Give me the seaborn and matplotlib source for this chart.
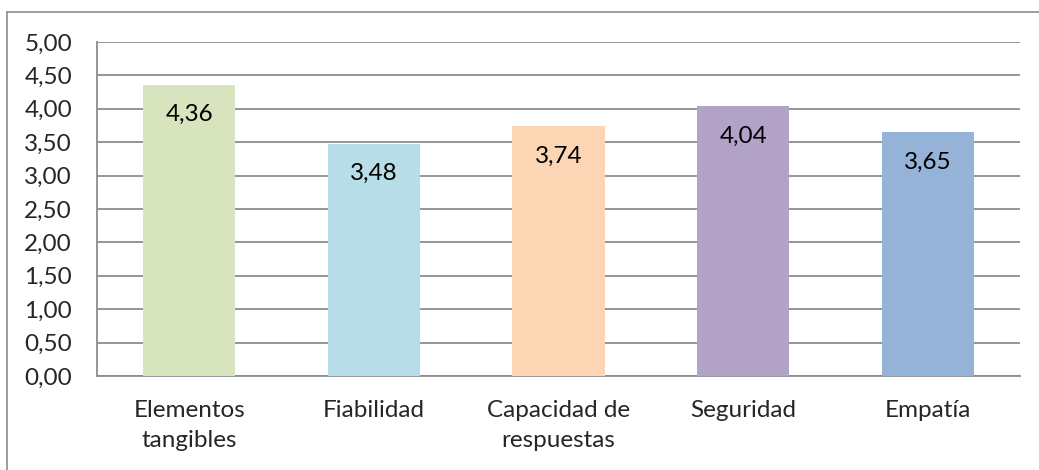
import matplotlib
matplotlib.use("Agg")
import matplotlib.pyplot as plt
import seaborn as sns
import pandas as pd
from matplotlib.lines import Line2D

categories = ["Elementos\ntangibles", "Fiabilidad", "Capacidad de\nrespuestas", "Seguridad", "Empatía"]
values = [4.36, 3.48, 3.74, 4.04, 3.65]
colors = ["#D7E4BD", "#B7DEE8", "#FCD5B5", "#B3A2C7", "#95B3D7"]
yticks = [0.0, 0.5, 1.0, 1.5, 2.0, 2.5, 3.0, 3.5, 4.0, 4.5, 5.0]

sns.set_theme(style="white")
plt.rcParams['font.family'] = ['Lato', 'DejaVu Sans']

df = pd.DataFrame({"cat": categories, "val": values})

W, H = 1039, 470
fig = plt.figure(figsize=(W / 100, H / 100), dpi=100)
ax = fig.add_axes([97 / W, 1 - 376 / H, (1020 - 97) / W, (376 - 42) / H])

sns.barplot(data=df, x="cat", y="val", hue="cat", palette=colors, legend=False,
            width=0.5, ax=ax, saturation=1, linewidth=0, zorder=3)

ax.set_ylim(0, 5)
ax.set_xlim(-0.5, 4.5)
ax.set_yticks(yticks)
ax.set_yticklabels([f"{t:.2f}".replace(".", ",") for t in yticks], fontsize=17.5)
ax.tick_params(axis='y', length=0, pad=18)
ax.tick_params(axis='x', length=0, pad=17, labelsize=17.5)
for lab in ax.get_xticklabels():
    lab.set_linespacing(1.55)
ax.set_xlabel("")
ax.set_ylabel("")
ax.grid(axis='y', color="#8C8C8C", linewidth=1.3, zorder=0)
ax.set_axisbelow(True)
for s in ["top", "right"]:
    ax.spines[s].set_visible(False)
for s in ["left", "bottom"]:
    ax.spines[s].set_color("#8C8C8C")
    ax.spines[s].set_linewidth(1.3)

for i, v in enumerate(values):
    ax.annotate(f"{v:.2f}".replace(".", ","), xy=(i, v), xytext=(0, -30),
                textcoords="offset pixels", ha="center", va="center", fontsize=17.5,
                color="black", zorder=5)

# outer chart border (left and top visible)
fig.add_artist(Line2D([7 / W, 7 / W], [0, 1 - 12 / H], transform=fig.transFigure,
                      color="#8C8C8C", linewidth=1.2))
fig.add_artist(Line2D([7 / W, 1], [1 - 12 / H, 1 - 12 / H], transform=fig.transFigure,
                      color="#8C8C8C", linewidth=1.2))

fig.savefig("out.png", dpi=100, facecolor="white")
